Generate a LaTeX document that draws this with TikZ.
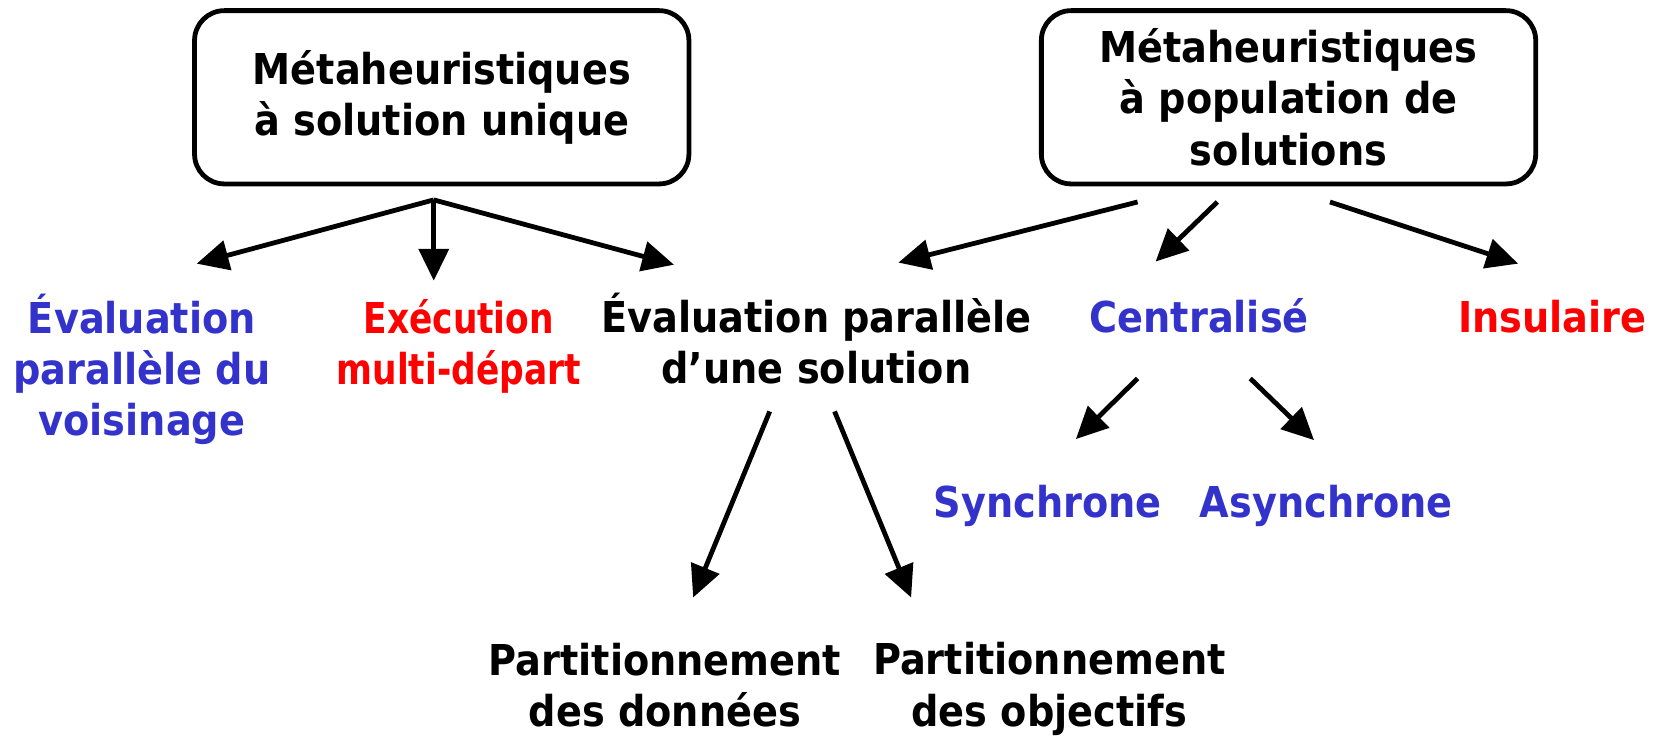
\documentclass[tikz,border=0pt]{standalone}
\usepackage{fontspec}
\setmainfont{DejaVu Sans Condensed}[BoldFont={DejaVu Sans Condensed Bold}]
\newfontfamily\narrowfont{DejaVu Sans Condensed Bold}[FakeStretch=0.9]
\usetikzlibrary{arrows.meta}
\definecolor{catblue}{RGB}{51,51,204}
\definecolor{catred}{RGB}{255,0,0}
\begin{document}
\begin{tikzpicture}[x=1pt,y=-1pt,
  lbl/.style={font=\bfseries\fontsize{40}{48}\selectfont, align=center, inner sep=0pt},
  mbox/.style={lbl, draw, line width=4.5pt, rounded corners=28pt,
    minimum width=465pt, minimum height=163pt},
  conn/.style={line width=4.5pt, -{Triangle[length=30pt,width=28pt]}}]
\useasboundingbox (0,0) rectangle (1568,693);

% the two families of metaheuristics
\node[mbox] (single) at (415.5,91.5) {Métaheuristiques\\à solution unique};
\node[mbox] (pop) at (1212,91.5) {Métaheuristiques\\à population de\\solutions};

% parallel models
\node[lbl, text=catblue] (voisin) at (133.5,347) {Évaluation\\parallèle du\\voisinage};
\node[lbl, text=catred, font=\narrowfont\fontsize{40}{48}\selectfont] (multi) at (431.5,326) {Exécution\\multi-départ};
\node[lbl] (evalsol) at (768,318.5) {Évaluation parallèle\\d’une solution};
\node[lbl, text=catblue] (central) at (1128,297) {Centralisé};
\node[lbl, text=catred] (insul) at (1460,298) {Insulaire};
\node[lbl, text=catblue] (sync) at (985.5,476) {Synchrone};
\node[lbl, text=catblue] (async) at (1247.5,476) {Asynchrone};
\node[lbl] (pdata) at (625.5,644) {Partitionnement\\des données};
\node[lbl] (pobj) at (987,648) {Partitionnement\\des objectifs};

% connector ends
\coordinate (s1) at (408,188);
\coordinate (t1a) at (185,248);
\coordinate (t1b) at (408,264);
\coordinate (t1c) at (634,249);
\coordinate (s2a) at (1070,190);
\coordinate (s2b) at (1145,190);
\coordinate (s2c) at (1251,190);
\coordinate (t2a) at (845,247);
\coordinate (t2b) at (1087,246);
\coordinate (t2c) at (1428,248);
\coordinate (s3a) at (1070,356);
\coordinate (s3b) at (1176,356);
\coordinate (t3a) at (1012,413);
\coordinate (t3b) at (1236,414);
\coordinate (s4a) at (724,387);
\coordinate (s4b) at (785,387);
\coordinate (t4a) at (652,562);
\coordinate (t4b) at (857,562);

\draw[conn] (s1) -- (t1a);
\draw[conn] (s1) -- (t1b);
\draw[conn] (s1) -- (t1c);
\draw[conn] (s2a) -- (t2a);
\draw[conn] (s2b) -- (t2b);
\draw[conn] (s2c) -- (t2c);
\draw[conn] (s3a) -- (t3a);
\draw[conn] (s3b) -- (t3b);
\draw[conn] (s4a) -- (t4a);
\draw[conn] (s4b) -- (t4b);
\end{tikzpicture}
\end{document}
